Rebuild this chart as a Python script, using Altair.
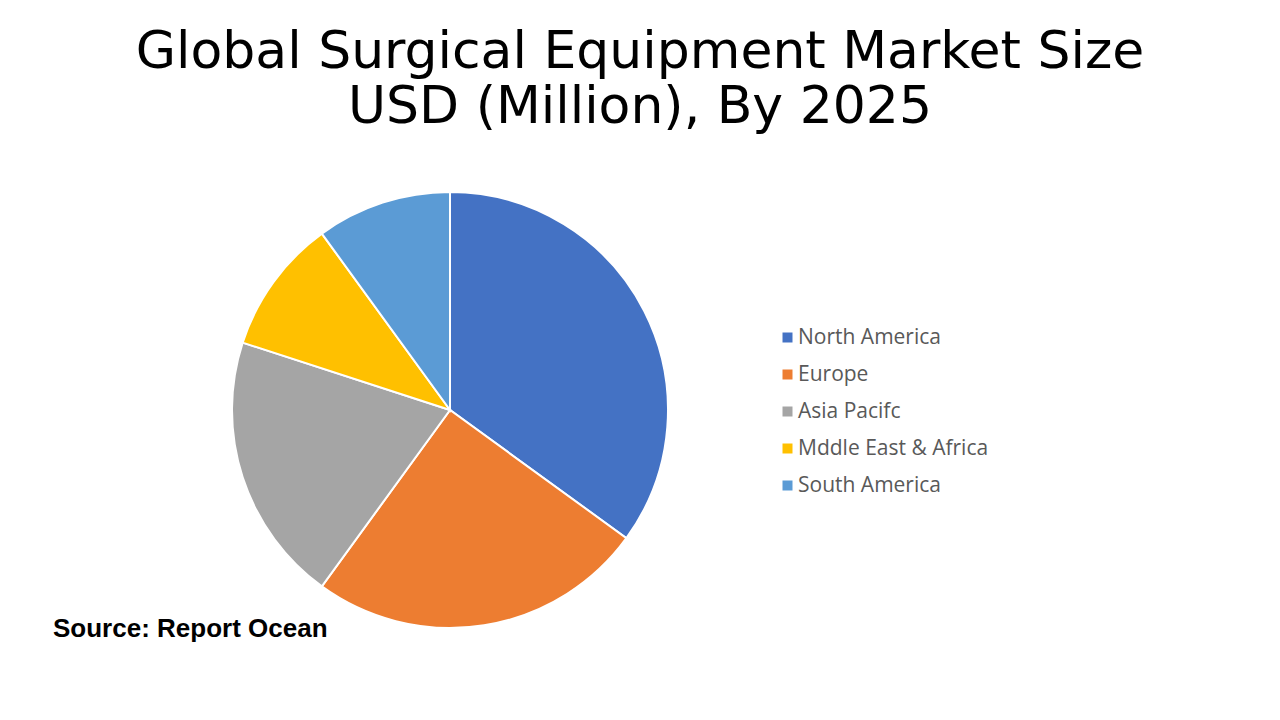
import altair as alt
import pandas as pd

regions = ["North America", "Europe", "Asia Pacifc", "Mddle East & Africa", "South America"]
shares = [35, 25, 20, 10, 10]
colors = ["#4472C4", "#ED7D31", "#A5A5A5", "#FFC000", "#5B9BD5"]
title_lines = ["Global Surgical Equipment Market Size", "USD (Million), By 2025"]
source_text = "Source: Report Ocean"

df = pd.DataFrame({"region": regions, "share": shares, "idx": list(range(len(regions)))})

pie = alt.Chart(df).mark_arc(stroke="white", strokeWidth=2, radius=218).encode(
    theta=alt.Theta("share:Q", stack=True),
    order=alt.Order("idx:Q"),
    color=alt.Color(
        "region:N",
        sort=regions,
        scale=alt.Scale(domain=regions, range=colors),
        legend=alt.Legend(
            title=None,
            orient="none",
            legendX=769,
            legendY=319,
            symbolType="square",
            symbolSize=100,
            symbolStrokeWidth=0,
            labelFontSize=21,
            labelFont="Open Sans",
            labelColor="#595959",
            labelLimit=0,
            rowPadding=15,
            labelOffset=0,
            padding=0,
        ),
    ),
    x=alt.value(442),
    y=alt.value(402),
)

title1 = alt.Chart(pd.DataFrame({"t": [title_lines[0]]})).mark_text(
    font="DejaVu Sans", fontSize=52, color="black", align="center", baseline="alphabetic",
).encode(text="t:N", x=alt.value(632), y=alt.value(60))

title2 = alt.Chart(pd.DataFrame({"t": [title_lines[1]]})).mark_text(
    font="DejaVu Sans", fontSize=52, color="black", align="center", baseline="alphabetic",
).encode(text="t:N", x=alt.value(632), y=alt.value(115))

src = alt.Chart(pd.DataFrame({"t": [source_text]})).mark_text(
    font="Liberation Sans", fontWeight="bold", fontSize=26, color="black",
    align="left", baseline="alphabetic",
).encode(text="t:N", x=alt.value(45), y=alt.value(629))

chart = alt.layer(pie, title1, title2, src).properties(
    width=1264, height=704, autosize=alt.AutoSizeParams(type="none"), padding=0,
).configure_view(stroke=None)

chart.save("out.html", embed_options={"renderer": "svg", "actions": False})
